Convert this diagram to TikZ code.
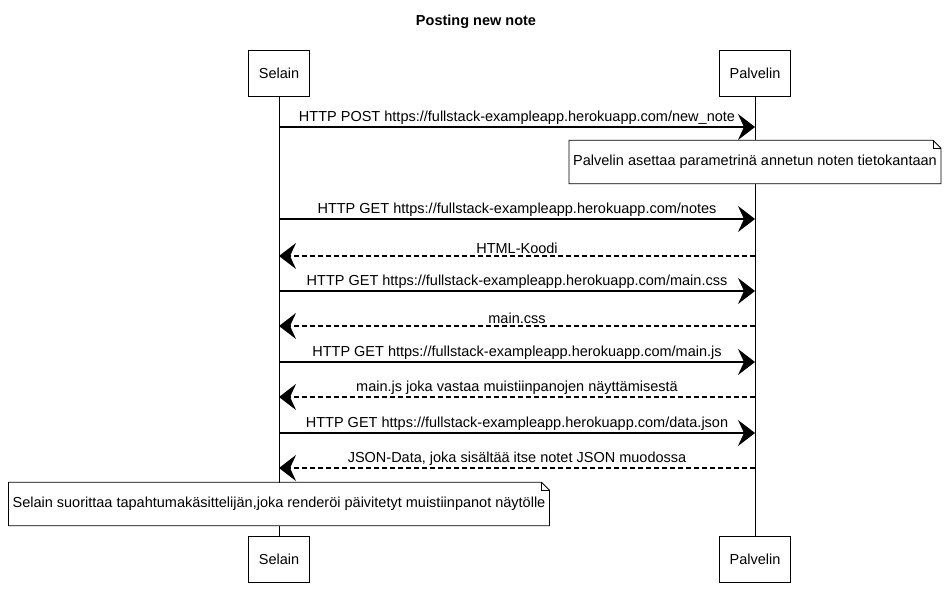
\documentclass[tikz,border=0pt]{standalone}
\usepackage{fontspec}
\setmainfont{Liberation Sans}
\usetikzlibrary{positioning, arrows.meta, calc}
\tikzset{
  actor/.style={draw, line width=0.8pt, fill=white, minimum height=46pt,
    inner xsep=10pt, font=\fontsize{14.5}{17}\selectfont},
  life/.style={line width=0.8pt},
  msg/.style={-{Stealth[length=17pt,width=26pt,inset=6pt]}, line width=1.2pt},
  reply/.style={msg, dash pattern=on 5pt off 3pt},
  msglabel/.style={above, inner sep=2pt, font=\fontsize{14.5}{17}\selectfont},
  notetext/.style={fill=white, minimum height=43pt, inner xsep=4pt,
    font=\fontsize{14.5}{17}\selectfont},
  notebox/.style={line width=0.8pt}
}

\begin{document}
\begin{tikzpicture}[x=1pt,y=-1pt]
\useasboundingbox (0,0) rectangle (949,604);

\node[font=\bfseries\fontsize{14.5}{17}\selectfont] (title) at (476,22) {Posting new note};

\node[actor] (selainTop) at (279,73) {Selain};
\node[actor] (palvelinTop) at (755,73) {Palvelin};
\node[actor] (selainBot) at (279,559) {Selain};
\node[actor] (palvelinBot) at (755,559) {Palvelin};

\draw[life] (selainTop) -- (selainBot);
\draw[life] (palvelinTop) -- (palvelinBot);


\coordinate (s1) at (279,127);
\coordinate (p1) at (755,127);
\draw[msg] (s1) -- node[msglabel] {HTTP POST https://fullstack-exampleapp.herokuapp.com/new\_note} (p1);

\node[notetext] (note1) at (755,162) {Palvelin asettaa parametrinä annetun noten tietokantaan};
\draw[notebox] (note1.north west) -- ($(note1.north east)+(-8,0)$) -- ($(note1.north east)+(0,8)$)
  -- (note1.south east) -- (note1.south west) -- cycle;
\draw[notebox] ($(note1.north east)+(-8,0)$) -- ($(note1.north east)+(-8,8)$) -- ($(note1.north east)+(0,8)$);


\coordinate (s2) at (279,219);
\coordinate (p2) at (755,219);
\draw[msg] (s2) -- node[msglabel] {HTTP GET https://fullstack-exampleapp.herokuapp.com/notes} (p2);

\coordinate (p3) at (755,256);
\coordinate (s3) at (279,256);
\draw[reply] (p3) -- node[msglabel] {HTML-Koodi} (s3);


\coordinate (s4) at (279,291);
\coordinate (p4) at (755,291);
\draw[msg] (s4) -- node[msglabel] {HTTP GET https://fullstack-exampleapp.herokuapp.com/main.css} (p4);

\coordinate (p5) at (755,326);
\coordinate (s5) at (279,326);
\draw[reply] (p5) -- node[msglabel] {main.css} (s5);


\coordinate (s6) at (279,362);
\coordinate (p6) at (755,362);
\draw[msg] (s6) -- node[msglabel] {HTTP GET https://fullstack-exampleapp.herokuapp.com/main.js} (p6);

\coordinate (p7) at (755,397);
\coordinate (s7) at (279,397);
\draw[reply] (p7) -- node[msglabel] {main.js joka vastaa muistiinpanojen näyttämisestä} (s7);


\coordinate (s8) at (279,433);
\coordinate (p8) at (755,433);
\draw[msg] (s8) -- node[msglabel] {HTTP GET https://fullstack-exampleapp.herokuapp.com/data.json} (p8);

\coordinate (p9) at (755,468);
\coordinate (s9) at (279,468);
\draw[reply] (p9) -- node[msglabel] {JSON-Data, joka sisältää itse notet JSON muodossa} (s9);


\node[notetext] (note2) at (279,504) {Selain suorittaa tapahtumakäsittelijän,joka renderöi päivitetyt muistiinpanot näytölle};
\draw[notebox] (note2.north west) -- ($(note2.north east)+(-8,0)$) -- ($(note2.north east)+(0,8)$)
  -- (note2.south east) -- (note2.south west) -- cycle;
\draw[notebox] ($(note2.north east)+(-8,0)$) -- ($(note2.north east)+(-8,8)$) -- ($(note2.north east)+(0,8)$);

\end{tikzpicture}
\end{document}
